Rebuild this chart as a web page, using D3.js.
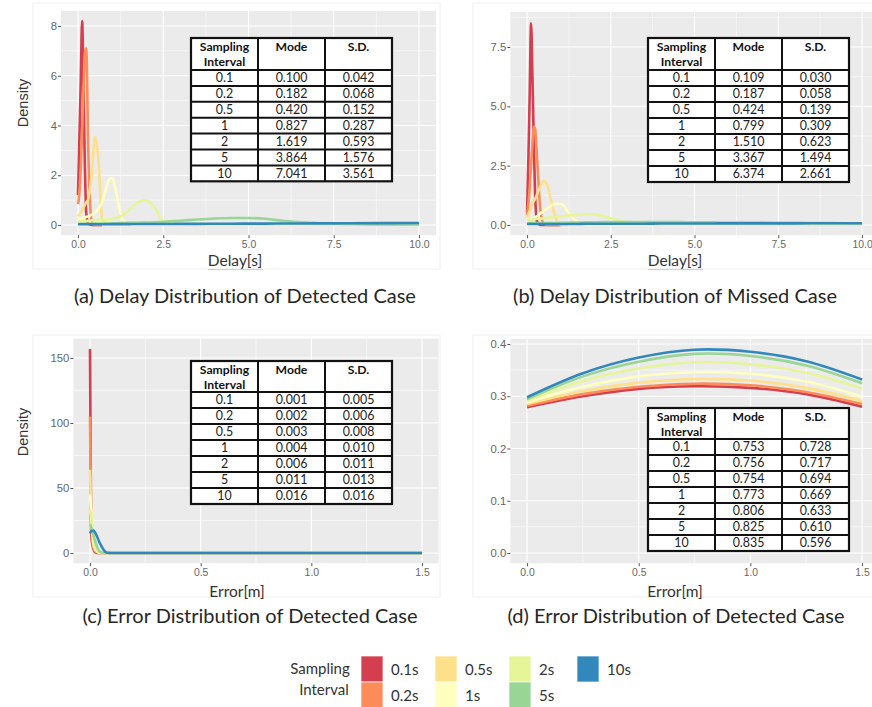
<!DOCTYPE html>
<html>
<head>
<meta charset="utf-8">
<script src="https://cdn.jsdelivr.net/npm/d3@7"></script>
<style>
	body { margin: 0; background: #fff; }
	svg { display: block; font-variant-ligatures: none; }
</style>
</head>
<body>
<div class="canvas"></div>
<script>
// legend / series
const intervals = ['0.1s', '0.2s', '0.5s', '1s', '2s', '5s', '10s'];
const tableIntervals = ['0.1', '0.2', '0.5', '1', '2', '5', '10'];
const colours = ['#D53E4F', '#FC8D59', '#FEE08B', '#FFFFBF', '#E6F598', '#99D594', '#3288BD'];

// tick labels
const delayTicks = [0, 2.5, 5, 7.5, 10];
const errorTicks = [0, 0.5, 1, 1.5];
const densityTicksA = [0, 2, 4, 6, 8];
const densityTicksB = [0, 2.5, 5, 7.5];
const densityTicksC = [0, 50, 100, 150];
const densityTicksD = [0, 0.1, 0.2, 0.3, 0.4];

// x grid of the delay curves (a, b)
const delayX = [0, 0.04, 0.08, 0.12, 0.16, 0.2, 0.24, 0.3, 0.4, 0.5, 0.6, 0.7, 0.8, 0.9, 1.0, 1.1, 1.2, 1.3, 1.5, 1.75, 2.0, 2.25, 2.5, 3, 3.5, 4, 4.5, 5, 5.5, 6, 7, 8, 9, 10];

// (a) delay, detected case
const detected01 = [1.2, 3.5, 5.8, 8.2, 5.5, 2.4, 0.5, 0.05, 0, 0, 0, 0, null, null, null, null, null, null, null, null, null, null, null, null, null, null, null, null, null, null, null, null, null, null];
const detected02 = [0.84, 1.3, 2.3, 3.8, 5.5, 6.9, 7.1, 3.0, 0.15, 0, 0, 0, null, null, null, null, null, null, null, null, null, null, null, null, null, null, null, null, null, null, null, null, null, null];
const detected05 = [0.35, 0.42, 0.5, 0.6, 0.7, 0.8, 0.9, 1.05, 2.0, 3.55, 2.6, 0.3, 0, null, null, null, null, null, null, null, null, null, null, null, null, null, null, null, null, null, null, null, null, null];
const detected1 = [0.2, 0.22, 0.24, 0.26, 0.28, 0.3, 0.32, 0.35, 0.42, 0.5, 0.65, 0.9, 1.35, 1.8, 1.9, 1.45, 0.75, 0.25, 0.05, 0.03, 0.02, 0.02, 0.02, 0.02, null, null, null, null, null, null, null, null, null, null];
const detected2 = [0.15, 0.15, 0.15, 0.16, 0.16, 0.16, 0.16, 0.17, 0.18, 0.19, 0.2, 0.21, 0.22, 0.23, 0.25, 0.28, 0.32, 0.38, 0.6, 0.92, 1.0, 0.7, 0.15, 0.05, 0.04, 0.03, 0.03, 0.02, 0.02, 0.02, 0.02, 0.01, 0.01, 0.01];
const detected5 = [0.05, 0.05, 0.05, 0.05, 0.05, 0.05, 0.05, 0.05, 0.055, 0.055, 0.06, 0.06, 0.065, 0.065, 0.07, 0.07, 0.075, 0.08, 0.085, 0.09, 0.1, 0.11, 0.13, 0.17, 0.22, 0.26, 0.28, 0.28, 0.25, 0.17, 0.08, 0.04, 0.02, 0.02];
const detected10 = [0.03, 0.03, 0.03, 0.03, 0.03, 0.03, 0.03, 0.03, 0.03, 0.03, 0.03, 0.03, 0.03, 0.03, 0.035, 0.035, 0.035, 0.035, 0.035, 0.04, 0.04, 0.04, 0.04, 0.045, 0.045, 0.05, 0.05, 0.055, 0.055, 0.06, 0.065, 0.07, 0.075, 0.08];

// (b) delay, missed case
const missed01 = [0.5, 2.8, 5.6, 8.5, 6.3, 3.6, 1.3, 0.15, 0, 0, 0, 0, 0, 0, 0, null, null, null, null, null, null, null, null, null, null, null, null, null, null, null, null, null, null, null];
const missed02 = [0.4, 0.9, 1.6, 2.5, 3.4, 4.15, 4.05, 2.8, 0.6, 0.05, 0, 0, 0, 0, 0, null, null, null, null, null, null, null, null, null, null, null, null, null, null, null, null, null, null, null];
const missed05 = [0.3, 0.45, 0.6, 0.75, 0.9, 1.0, 1.1, 1.3, 1.65, 1.86, 1.7, 1.15, 0.55, 0.12, 0.02, 0, 0, null, null, null, null, null, null, null, null, null, null, null, null, null, null, null, null, null];
const missed1 = [0.2, 0.22, 0.24, 0.26, 0.28, 0.3, 0.33, 0.38, 0.5, 0.6, 0.7, 0.8, 0.86, 0.89, 0.88, 0.8, 0.6, 0.4, 0.15, 0.04, 0.02, 0.02, 0.02, null, null, null, null, null, null, null, null, null, null, null];
const missed2 = [0.2, 0.21, 0.22, 0.23, 0.23, 0.24, 0.25, 0.26, 0.27, 0.28, 0.3, 0.31, 0.33, 0.35, 0.36, 0.38, 0.39, 0.41, 0.43, 0.45, 0.44, 0.38, 0.28, 0.12, 0.05, 0.03, 0.02, 0.02, 0.02, 0.02, 0.015, 0.01, 0.01, 0.01];
const missed5 = [0.08, 0.08, 0.08, 0.08, 0.08, 0.08, 0.08, 0.08, 0.08, 0.08, 0.08, 0.08, 0.08, 0.08, 0.09, 0.09, 0.095, 0.1, 0.1, 0.11, 0.11, 0.12, 0.12, 0.125, 0.125, 0.12, 0.12, 0.115, 0.11, 0.105, 0.1, 0.09, 0.08, 0.07];
const missed10 = [0.04, 0.04, 0.04, 0.04, 0.04, 0.04, 0.04, 0.04, 0.04, 0.04, 0.04, 0.04, 0.04, 0.04, 0.045, 0.045, 0.045, 0.045, 0.045, 0.05, 0.05, 0.05, 0.05, 0.055, 0.055, 0.06, 0.06, 0.065, 0.065, 0.07, 0.07, 0.07, 0.075, 0.075];

// x grid of the error curves (c)
const errorX = [0, 0.005, 0.01, 0.015, 0.02, 0.03, 0.04, 0.05, 0.06, 0.07, 0.08, 0.09, 0.1, 0.2, 0.5, 1.0, 1.5];

// (c) error, detected case
const error01 = [157, 15, 7, 3.5, 1.2, 0.1, 0, 0, 0, 0, 0, 0, 0, 0, 0, 0, 0];
const error02 = [105, 25, 10, 5, 2.5, 0.6, 0.1, 0, 0, 0, 0, 0, 0, 0, 0, 0, 0];
const error05 = [64, 35, 15, 7, 3.5, 1.2, 0.3, 0.05, 0, 0, 0, 0, 0, 0, 0, 0, 0];
const error1 = [45, 33, 20, 11, 6, 2, 0.6, 0.15, 0, 0, 0, 0, 0, 0, 0, 0, 0];
const error2 = [33, 29, 22, 14, 8.5, 3, 1, 0.3, 0.05, 0, 0, 0, 0, 0, 0, 0, 0];
const error5 = [22, 20, 17, 14, 11, 5.5, 2, 0.6, 0.1, 0, 0, 0, 0, 0, 0, 0, 0];
const error10 = [15, 16.5, 17.1, 17.2, 16.5, 13.5, 9.3, 5.8, 2.8, 0.8, 0.15, 0.05, 0, 0, 0, 0, 0];

// x grid of the error curves (d)
const wideErrorX = [0, 0.25, 0.5, 0.75, 1.0, 1.25, 1.5];

// (d) error distribution
const wide01 = [0.279, 0.300, 0.314, 0.319, 0.316, 0.304, 0.280];
const wide02 = [0.282, 0.304, 0.318, 0.324, 0.321, 0.308, 0.285];
const wide05 = [0.285, 0.310, 0.326, 0.333, 0.330, 0.316, 0.291];
const wide1 = [0.288, 0.318, 0.338, 0.346, 0.343, 0.328, 0.299];
const wide2 = [0.291, 0.329, 0.353, 0.365, 0.361, 0.345, 0.315];
const wide5 = [0.294, 0.338, 0.366, 0.381, 0.377, 0.359, 0.325];
const wide10 = [0.298, 0.344, 0.374, 0.389, 0.385, 0.367, 0.332];

// table values
const modeA = ['0.100', '0.182', '0.420', '0.827', '1.619', '3.864', '7.041'];
const sdA = ['0.042', '0.068', '0.152', '0.287', '0.593', '1.576', '3.561'];
const modeB = ['0.109', '0.187', '0.424', '0.799', '1.510', '3.367', '6.374'];
const sdB = ['0.030', '0.058', '0.139', '0.309', '0.623', '1.494', '2.661'];
const modeC = ['0.001', '0.002', '0.003', '0.004', '0.006', '0.011', '0.016'];
const sdC = ['0.005', '0.006', '0.008', '0.010', '0.011', '0.013', '0.016'];
const modeD = ['0.753', '0.756', '0.754', '0.773', '0.806', '0.825', '0.835'];
const sdD = ['0.728', '0.717', '0.694', '0.669', '0.633', '0.610', '0.596'];

const svg = d3.select('.canvas').append('svg')
	.attr('width', 872)
	.attr('height', 707)
	.style('font-family', 'Lato, "Open Sans", sans-serif');

const panels = [
	{
		xs: delayX, series: [detected01, detected02, detected05, detected1, detected2, detected5, detected10],
		xDomain: [-0.5, 10.5], xRange: [61, 436], yDomain: [-0.41, 8.61], yRange: [235.2, 10.8],
		xTicks: delayTicks, yTicks: densityTicksA, xFmt: d3.format('.1f'), yFmt: d3.format('d'),
		xTitle: 'Delay[s]', xTitleAt: [235, 266], underline: true, yTitle: 'Density', yTitleAt: [23, 103],
		caption: '(a) Delay Distribution of Detected Case', captionAt: [245, 303],
		table: {x: 191, y: 38, head: 32, row: 15.9, mode: modeA, sd: sdA},
		frame: [33, 3, 407, 266], curve: d3.curveMonotoneX
	},
	{
		xs: delayX, series: [missed01, missed02, missed05, missed1, missed2, missed5, missed10],
		xDomain: [-0.5, 10.5], xRange: [510.3, 878.8], yDomain: [-0.43, 8.98], yRange: [235.2, 11.9],
		xTicks: delayTicks, yTicks: densityTicksB, xFmt: d3.format('.1f'), yFmt: d3.format('.1f'),
		xTitle: 'Delay[s]', xTitleAt: [675, 266], underline: true,
		caption: '(b) Delay Distribution of Missed Case', captionAt: [675, 303],
		table: {x: 648, y: 38, head: 32, row: 16, mode: modeB, sd: sdB},
		frame: [473, 3, 405, 266], curve: d3.curveMonotoneX
	},
	{
		xs: errorX, series: [error01, error02, error05, error1, error2, error5, error10],
		xDomain: [-0.075, 1.575], xRange: [73.4, 438.6], yDomain: [-7.85, 164.85], yRange: [563.2, 338.7],
		xTicks: errorTicks, yTicks: densityTicksC, xFmt: d3.format('.1f'), yFmt: d3.format('d'),
		xTitle: 'Error[m]', xTitleAt: [237, 597], yTitle: 'Density', yTitleAt: [23, 432],
		caption: '(c) Error Distribution of Detected Case', captionAt: [250, 623],
		table: {x: 191, y: 361, head: 31, row: 16, mode: modeC, sd: sdC},
		frame: [33, 335, 407, 262], curve: d3.curveMonotoneX
	},
	{
		xs: wideErrorX, series: [wide01, wide02, wide05, wide1, wide2, wide5, wide10],
		xDomain: [-0.075, 1.575], xRange: [510.3, 878.8], yDomain: [-0.0195, 0.4095], yRange: [563.2, 339],
		xTicks: errorTicks, yTicks: densityTicksD, xFmt: d3.format('.1f'), yFmt: d3.format('.1f'),
		xTitle: 'Error[m]', xTitleAt: [675, 597],
		caption: '(d) Error Distribution of Detected Case', captionAt: [676, 623],
		table: {x: 648, y: 408, head: 31, row: 16, mode: modeD, sd: sdD},
		frame: [473, 335, 405, 262], curve: d3.curveCatmullRom
	}
];

// minor breaks half way between majors, one step past each end if inside the panel
function minorBreaks(ticks, domain) {
	const step = ticks[1] - ticks[0];
	const out = [];
	for (let v = ticks[0] - step / 2; v <= ticks[ticks.length - 1] + step / 2 + 1e-9; v += step) {
		if (v > domain[0] && v < domain[1]) out.push(v);
	}
	return out;
}

panels.forEach(p => {
	const g = svg.append('g');

	g.append('rect')
		.attr('x', p.frame[0]).attr('y', p.frame[1])
		.attr('width', p.frame[2]).attr('height', p.frame[3])
		.attr('fill', 'none').attr('stroke', '#f0f0f0');

	const x = d3.scaleLinear().domain(p.xDomain).range(p.xRange);
	const y = d3.scaleLinear().domain(p.yDomain).range(p.yRange);

	g.append('rect')
		.attr('x', p.xRange[0]).attr('y', p.yRange[1])
		.attr('width', p.xRange[1] - p.xRange[0]).attr('height', p.yRange[0] - p.yRange[1])
		.attr('fill', '#EBEBEB');

	// grid
	g.selectAll('.xminor').data(minorBreaks(p.xTicks, p.xDomain)).enter().append('line')
		.attr('x1', d => x(d)).attr('x2', d => x(d))
		.attr('y1', p.yRange[0]).attr('y2', p.yRange[1])
		.attr('stroke', '#fff').attr('stroke-width', 0.5);
	g.selectAll('.yminor').data(minorBreaks(p.yTicks, p.yDomain)).enter().append('line')
		.attr('y1', d => y(d)).attr('y2', d => y(d))
		.attr('x1', p.xRange[0]).attr('x2', p.xRange[1])
		.attr('stroke', '#fff').attr('stroke-width', 0.5);
	g.selectAll('.xmajor').data(p.xTicks).enter().append('line')
		.attr('x1', d => x(d)).attr('x2', d => x(d))
		.attr('y1', p.yRange[0]).attr('y2', p.yRange[1])
		.attr('stroke', '#fff').attr('stroke-width', 1.1);
	g.selectAll('.ymajor').data(p.yTicks).enter().append('line')
		.attr('y1', d => y(d)).attr('y2', d => y(d))
		.attr('x1', p.xRange[0]).attr('x2', p.xRange[1])
		.attr('stroke', '#fff').attr('stroke-width', 1.1);

	// curves
	const line = d3.line()
		.defined(d => d[1] != null)
		.x(d => x(d[0]))
		.y(d => y(d[1]))
		.curve(p.curve);

	p.series.forEach((ys, i) => {
		g.append('path')
			.datum(p.xs.map((v, j) => [v, ys[j]]))
			.attr('d', line)
			.attr('fill', 'none')
			.attr('stroke', colours[i])
			.attr('stroke-width', 2.6)
			.attr('stroke-linejoin', 'round');
	});

	// axes
	const xAxis = d3.axisBottom(x).tickValues(p.xTicks).tickFormat(p.xFmt).tickSize(3).tickPadding(2);
	const yAxis = d3.axisLeft(y).tickValues(p.yTicks).tickFormat(p.yFmt).tickSize(3).tickPadding(1);

	const xg = g.append('g').attr('transform', `translate(0, ${p.yRange[0]})`).call(xAxis);
	const yg = g.append('g').attr('transform', `translate(${p.xRange[0]}, 0)`).call(yAxis);
	[xg, yg].forEach(ax => {
		ax.select('.domain').remove();
		ax.selectAll('line').attr('stroke', '#555');
		ax.selectAll('text')
			.attr('fill', '#666')
			.style('font-family', '"Liberation Sans", Arial, sans-serif')
			.style('font-size', ax === yg ? '11.3px' : '10.4px');
	});

	// titles
	g.append('text')
		.attr('x', p.xTitleAt[0]).attr('y', p.xTitleAt[1])
		.attr('text-anchor', 'middle')
		.attr('fill', '#333')
		.style('font-size', '15.5px')
		.text(p.xTitle);
	if (p.underline) {
		g.append('line')
			.attr('x1', p.xTitleAt[0] - 27).attr('x2', p.xTitleAt[0] + 28)
			.attr('y1', p.xTitleAt[1] + 3.5).attr('y2', p.xTitleAt[1] + 3.5)
			.attr('stroke', '#d0d0d0');
	}
	if (p.yTitle) {
		g.append('text')
			.attr('transform', `translate(${p.yTitleAt[0]}, ${p.yTitleAt[1]}) rotate(-90)`)
			.attr('text-anchor', 'middle')
			.attr('dy', '0.35em')
			.attr('fill', '#333')
			.style('font-family', '"Liberation Sans", Arial, sans-serif')
			.style('font-size', '14.5px')
			.text(p.yTitle);
	}
	g.append('text')
		.attr('x', p.captionAt[0]).attr('y', p.captionAt[1])
		.attr('text-anchor', 'middle')
		.attr('fill', '#262626')
		.style('font-size', '20px')
		.text(p.caption);

	// inset table
	const t = p.table;
	const colW = 67;
	const tg = g.append('g').attr('transform', `translate(${t.x}, ${t.y})`);
	const tableH = t.head + t.row * 7;
	tg.append('rect')
		.attr('width', colW * 3).attr('height', tableH)
		.attr('fill', '#fff').attr('stroke', '#111').attr('stroke-width', 2.2);
	[1, 2].forEach(c => {
		tg.append('line')
			.attr('x1', c * colW).attr('x2', c * colW)
			.attr('y1', 0).attr('y2', tableH)
			.attr('stroke', '#111').attr('stroke-width', 2);
	});
	d3.range(7).forEach(r => {
		tg.append('line')
			.attr('x1', 0).attr('x2', colW * 3)
			.attr('y1', t.head + r * t.row).attr('y2', t.head + r * t.row)
			.attr('stroke', '#111').attr('stroke-width', 2);
	});
	const head = [['Sampling', 'Interval'], ['Mode'], ['S.D.']];
	head.forEach((lines, c) => {
		lines.forEach((s, k) => {
			tg.append('text')
				.attr('x', c * colW + colW / 2).attr('y', 12.5 + k * 15.5)
				.attr('text-anchor', 'middle')
				.attr('fill', '#111')
				.style('font-size', '12.2px')
				.style('font-weight', 'bold')
				.text(s);
		});
	});
	tableIntervals.forEach((s, r) => {
		[s, t.mode[r], t.sd[r]].forEach((v, c) => {
			tg.append('text')
				.attr('x', c * colW + colW / 2)
				.attr('y', t.head + r * t.row + t.row / 2 + 4.4)
				.attr('text-anchor', 'middle')
				.attr('fill', '#222')
				.style('font-size', '12.4px')
				.text(v);
		});
	});
});

// legend
const legendColX = [361, 435, 509, 577];
const legend = svg.append('g');
legend.append('text')
	.attr('x', 320).attr('y', 674)
	.attr('text-anchor', 'middle').attr('fill', '#333')
	.style('font-size', '15px')
	.text('Sampling');
legend.append('text')
	.attr('x', 324).attr('y', 695)
	.attr('text-anchor', 'middle').attr('fill', '#333')
	.style('font-size', '15px')
	.text('Interval');

intervals.forEach((name, i) => {
	const cx = legendColX[Math.floor(i / 2)];
	const cy = 656 + (i % 2) * 26;
	legend.append('rect')
		.attr('x', cx).attr('y', cy)
		.attr('width', 22).attr('height', 26)
		.attr('fill', colours[i])
		.attr('stroke', 'rgba(255,255,255,0.7)').attr('stroke-width', 1);
	legend.append('text')
		.attr('x', cx + 30).attr('y', cy + 19)
		.attr('fill', '#333')
		.style('font-size', '15px')
		.text(name);
});
</script>
</body>
</html>
